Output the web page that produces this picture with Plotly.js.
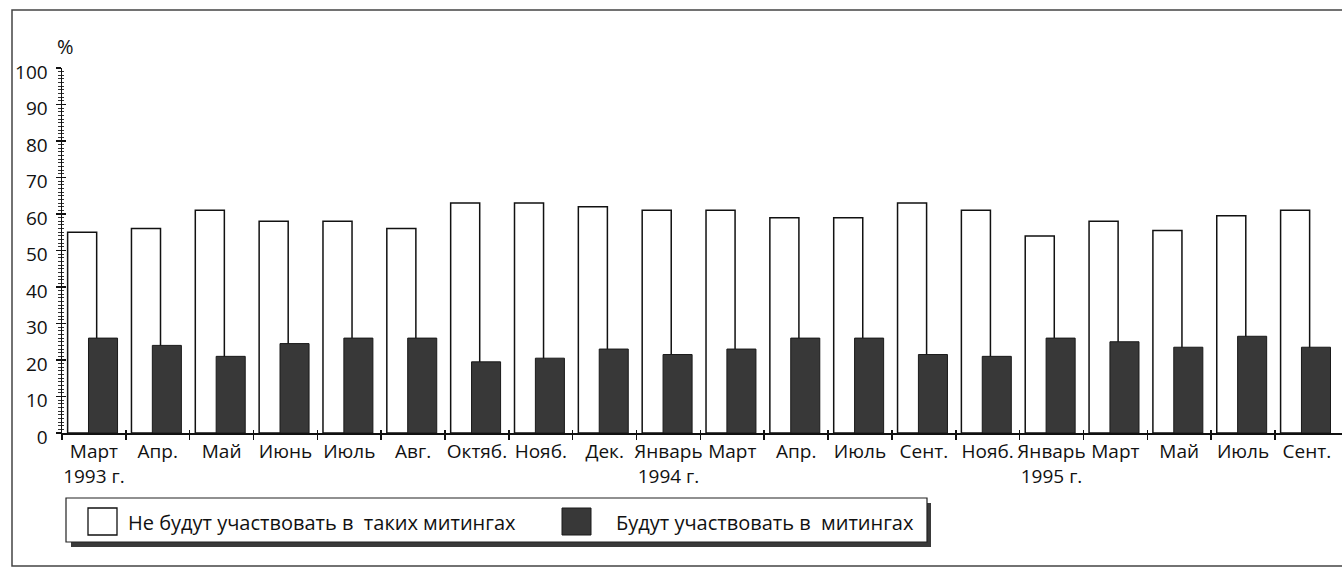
<!DOCTYPE html>
<html>
<head>
<meta charset="utf-8">
<script src="https://cdn.plot.ly/plotly-3.0.1.min.js"></script>
<style>html,body{margin:0;padding:0;background:#fff;overflow:hidden}#chart{width:1342px;height:570px}</style>
</head>
<body>
<div id="chart"></div>
<script>
// ---- data ----
const months = ['Март','Апр.','Май','Июнь','Июль','Авг.','Октяб.','Нояб.','Дек.','Январь','Март','Апр.','Июль','Сент.','Нояб.','Январь','Март','Май','Июль','Сент.'];
const years  = ['1993 г.','','','','','','','','','1994 г.','','','','','','1995 г.','','','',''];
const notParticipate = [55,56,61,58,58,56,63,63,62,61,61,59,59,63,61,54,58,55.5,59.5,61];
const participate    = [26,24,21,24.5,26,26,19.5,20.5,23,21.5,23,26,26,21.5,21,26,25,23.5,26.5,23.5];
const yTicks = [0,10,20,30,40,50,60,70,80,90,100];
const legendNames = ['Не будут участвовать в  таких митингах','Будут участвовать в  митингах'];

// ---- derived ----
const idx = months.map((_, i) => i);
const bounds = months.map((_, i) => i - 0.5);
const labels = months.map((m, i) => years[i] ? m + '<br>' + years[i] : m);

// layout geometry (pixels)
const W = 1342, H = 570, L = 62, R = 0, T = 68, B = 137;
const pw = W - L - R, ph = H - T - B;
const px = x => (x - L) / pw;
const py = y => (H - B - y) / ph;
const FONT = 'Open Sans, Noto Sans, sans-serif';
const XR = [-0.5, 19.55];

const traces = [
  {type:'bar', x: idx, y: notParticipate, name: legendNames[0],
   offset: -0.412, width: 0.455,
   marker:{color:'#ffffff', line:{color:'#111', width:1.5}}, hoverinfo:'y'},
  {type:'bar', x: idx, y: participate, name: legendNames[1],
   offset: -0.085, width: 0.455,
   marker:{color:'#383838', line:{color:'#1a1a1a', width:1}}, hoverinfo:'y'},
  {type:'scatter', mode:'lines', x:[0], y:[null], xaxis:'x2', yaxis:'y2', showlegend:false, hoverinfo:'skip'},
  {type:'scatter', mode:'lines', x:[0], y:[null], xaxis:'x3', yaxis:'y2', showlegend:false, hoverinfo:'skip'}
];

const layout = {
  width: W, height: H,
  margin:{l:L, r:R, t:T, b:B, pad:0},
  paper_bgcolor:'#fff', plot_bgcolor:'rgba(0,0,0,0)',
  showlegend:false, barmode:'overlay',
  font:{family:FONT, color:'#111', size:18},
  xaxis:{range:XR, tickmode:'array', tickvals: bounds, ticktext: bounds.map(()=>''),
         ticks:'outside', ticklen:5, tickwidth:1.5, tickcolor:'#111',
         showline:true, linecolor:'#111', linewidth:1.5, showgrid:false, zeroline:false,
         fixedrange:true, automargin:false},
  xaxis2:{overlaying:'x', range:XR, tickmode:'array', tickvals: idx, ticktext: labels,
          ticks:'', showline:false, showgrid:false, zeroline:false, automargin:false,
          ticklabelstandoff:5, tickangle:0,
          tickfont:{family:FONT, size:19, color:'#111'}, side:'bottom', anchor:'y'},
  xaxis3:{overlaying:'x', range:XR, tickmode:'array', tickvals: bounds, ticktext: bounds.map(()=>''),
          ticks:'inside', ticklen:3, tickwidth:1.5, tickcolor:'#111',
          showline:false, showgrid:false, zeroline:false, automargin:false, side:'bottom', anchor:'y'},
  yaxis:{range:[0,100], tickmode:'array', tickvals:yTicks, ticktext:yTicks.map(String),
         ticks:'outside', ticklen:5, tickwidth:1.5, tickcolor:'#111',
         minor:{dtick:1, ticks:'outside', ticklen:3, tickwidth:1, tickcolor:'#333', showgrid:false},
         showline:true, linecolor:'#111', linewidth:1.5, showgrid:false, zeroline:false,
         tickfont:{family:FONT, size:19, color:'#111'}, ticklabelstandoff:4, ticklabelshift:4,
         fixedrange:true, automargin:false},
  yaxis2:{overlaying:'y', range:[0,100], tickmode:'array', tickvals:yTicks, ticktext:yTicks.map(()=>''),
          ticks:'inside', ticklen:4, tickwidth:1.5, tickcolor:'#111',
          minor:{dtick:1, ticks:'inside', ticklen:2, tickwidth:1, tickcolor:'#333', showgrid:false},
          showline:false, showgrid:false, zeroline:false, side:'left', anchor:'x', automargin:false},
  shapes:[
    // outer frame
    {type:'rect', xref:'paper', yref:'paper', x0:px(12), x1:px(1352), y0:py(566), y1:py(10),
     line:{color:'#444', width:1.5}, fillcolor:'rgba(0,0,0,0)', layer:'below'},
    // legend shadow + box
    {type:'rect', xref:'paper', yref:'paper', x0:px(71), x1:px(931), y0:py(547), y1:py(503),
     line:{width:0}, fillcolor:'#3a3a3a'},
    {type:'rect', xref:'paper', yref:'paper', x0:px(66), x1:px(927), y0:py(542), y1:py(498),
     line:{color:'#222', width:1.2}, fillcolor:'#fff'},
    // legend swatches
    {type:'rect', xref:'paper', yref:'paper', x0:px(88), x1:px(117), y0:py(535), y1:py(508),
     line:{color:'#111', width:1.3}, fillcolor:'#fff'},
    {type:'rect', xref:'paper', yref:'paper', x0:px(562), x1:px(591), y0:py(535), y1:py(508),
     line:{color:'#1a1a1a', width:1}, fillcolor:'#383838'}
  ],
  annotations:[
    {xref:'paper', yref:'paper', x:px(65), y:py(46), text:'%', showarrow:false,
     font:{family:FONT, size:20, color:'#111'}, xanchor:'center', yanchor:'middle'},
    {xref:'paper', yref:'paper', x:px(126), y:py(522), text:legendNames[0], showarrow:false,
     font:{family:FONT, size:20, color:'#111'}, xanchor:'left', yanchor:'middle'},
    {xref:'paper', yref:'paper', x:px(614), y:py(522), text:legendNames[1], showarrow:false,
     font:{family:FONT, size:20, color:'#111'}, xanchor:'left', yanchor:'middle'}
  ]
};

Plotly.newPlot('chart', traces, layout, {displayModeBar:false, staticPlot:true});
</script>
</body>
</html>
